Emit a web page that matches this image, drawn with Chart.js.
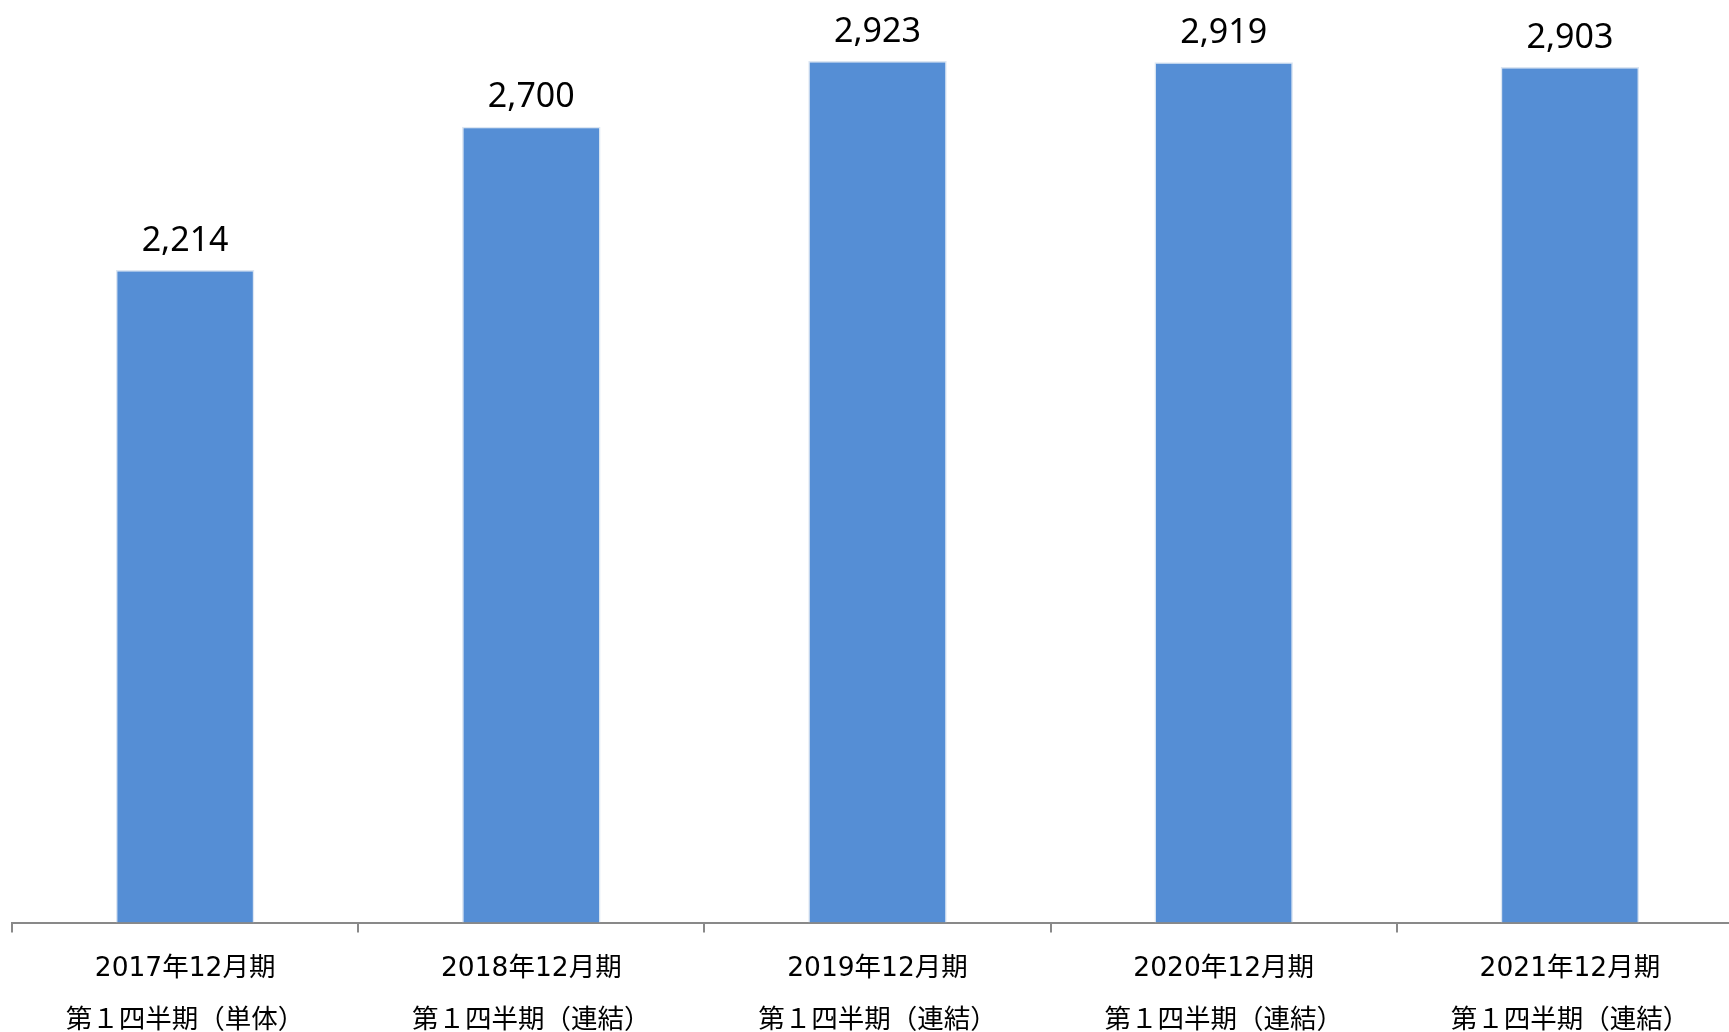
<!DOCTYPE html>
<html>
<head>
<meta charset="utf-8">
<script src="https://cdn.jsdelivr.net/npm/chart.js@4/dist/chart.umd.min.js"></script>
<style>
  html, body { margin: 0; padding: 0; background: #fff; overflow: hidden; }
  #wrap { width: 1745px; height: 1057px; }
</style>
</head>
<body>
<div id="wrap"><canvas id="chartBar"></canvas></div>
<script>
const periods = ["2017年12月期", "2018年12月期", "2019年12月期", "2020年12月期", "2021年12月期"];
const quarters = ["第１四半期（単体）", "第１四半期（連結）", "第１四半期（連結）", "第１四半期（連結）", "第１四半期（連結）"];
const values = [2214, 2700, 2923, 2919, 2903];

// value labels above each bar
const barLabels = {
  id: "barLabels",
  afterDatasetsDraw(chart) {
    const ctx = chart.ctx;
    const meta = chart.getDatasetMeta(0);
    ctx.save();
    ctx.font = "34px 'Noto Sans', 'Open Sans', sans-serif";
    ctx.fillStyle = "#000";
    ctx.textAlign = "center";
    ctx.textBaseline = "middle";
    meta.data.forEach((bar, i) => {
      ctx.fillText(values[i].toLocaleString("en-US"), bar.x, bar.y - 29);
    });
    ctx.restore();
  }
};

const data = {
  labels: periods.map((p, i) => [p, quarters[i]]),
  datasets: [
    {
      data: values,
      backgroundColor: "#558ed5",
      borderColor: "#dce6f2",
      borderWidth: 1.5,
      barPercentage: 0.4,
      categoryPercentage: 1.0
    }
  ]
};

new Chart(document.getElementById("chartBar"), {
  type: "bar",
  data,
  plugins: [barLabels],
  options: {
    responsive: true,
    maintainAspectRatio: false,
    animation: false,
    layout: { padding: { left: 12, right: 2, top: 0, bottom: 0 } },
    plugins: { legend: { display: false }, tooltip: { enabled: false } },
    scales: {
      x: {
        grid: {
          offset: true,
          drawOnChartArea: false,
          drawTicks: true,
          tickLength: 10,
          color: "#898989",
          lineWidth: 2
        },
        border: { display: true, color: "#898989", width: 2 },
        ticks: {
          color: "#000",
          padding: 10,
          maxRotation: 0,
          autoSkip: false,
          font: { family: "'DejaVu Sans', 'Noto Sans CJK JP', sans-serif", size: 26.5, lineHeight: 1.97 }
        }
      },
      y: {
        display: false,
        min: 0,
        max: 3130
      }
    }
  }
});
</script>
</body>
</html>
